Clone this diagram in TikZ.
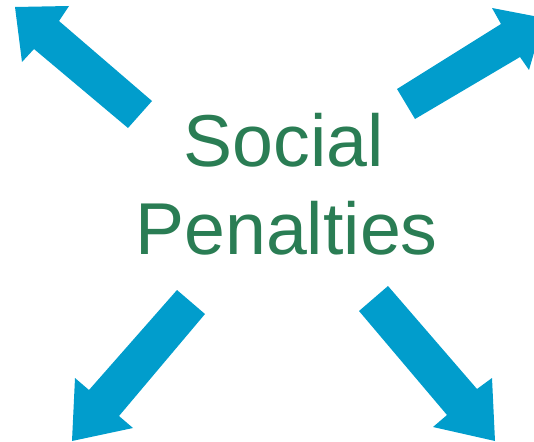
\documentclass[tikz,border=0pt]{standalone}
\usepackage{fontspec}
\setmainfont{Liberation Sans}
\definecolor{arrowblue}{RGB}{1,157,204}
\definecolor{textgreen}{RGB}{42,125,84}
\tikzset{
	bigarrow/.style={fill=arrowblue,draw=none},
	bigword/.style={text=textgreen,font=\fontsize{73.5}{88}\selectfont,inner sep=0pt,anchor=base}
}

\begin{document}
\begin{tikzpicture}[x=1pt,y=-1pt]
	\useasboundingbox (0,0) rectangle (534,441);
	\clip (0,0) rectangle (534,441);
	%
	% upper left
	\fill[bigarrow] (15,7) -- (69,6) -- (59,21) -- (152,101) -- (128,128) -- (34,49) -- (22,62) -- cycle;
	% upper right
	\fill[bigarrow] (544,18) -- (529,70) -- (520,57) -- (415,119) -- (397,89) -- (501,24) -- (492,8) -- cycle;
	% lower left
	\fill[bigarrow] (72,441) -- (75,378) -- (89,390) -- (177,290) -- (205,314) -- (119,416) -- (133,428) -- cycle;
	% lower right
	\fill[bigarrow] (495,441) -- (433,427) -- (447,415) -- (359,311) -- (388,286) -- (477,389) -- (492,378) -- cycle;
	%
	\node[bigword] (social) at (283.5,166) {Social};
	\node[bigword] (penalties) at (286.5,254) {Penalties};
	%
\end{tikzpicture}
\end{document}
